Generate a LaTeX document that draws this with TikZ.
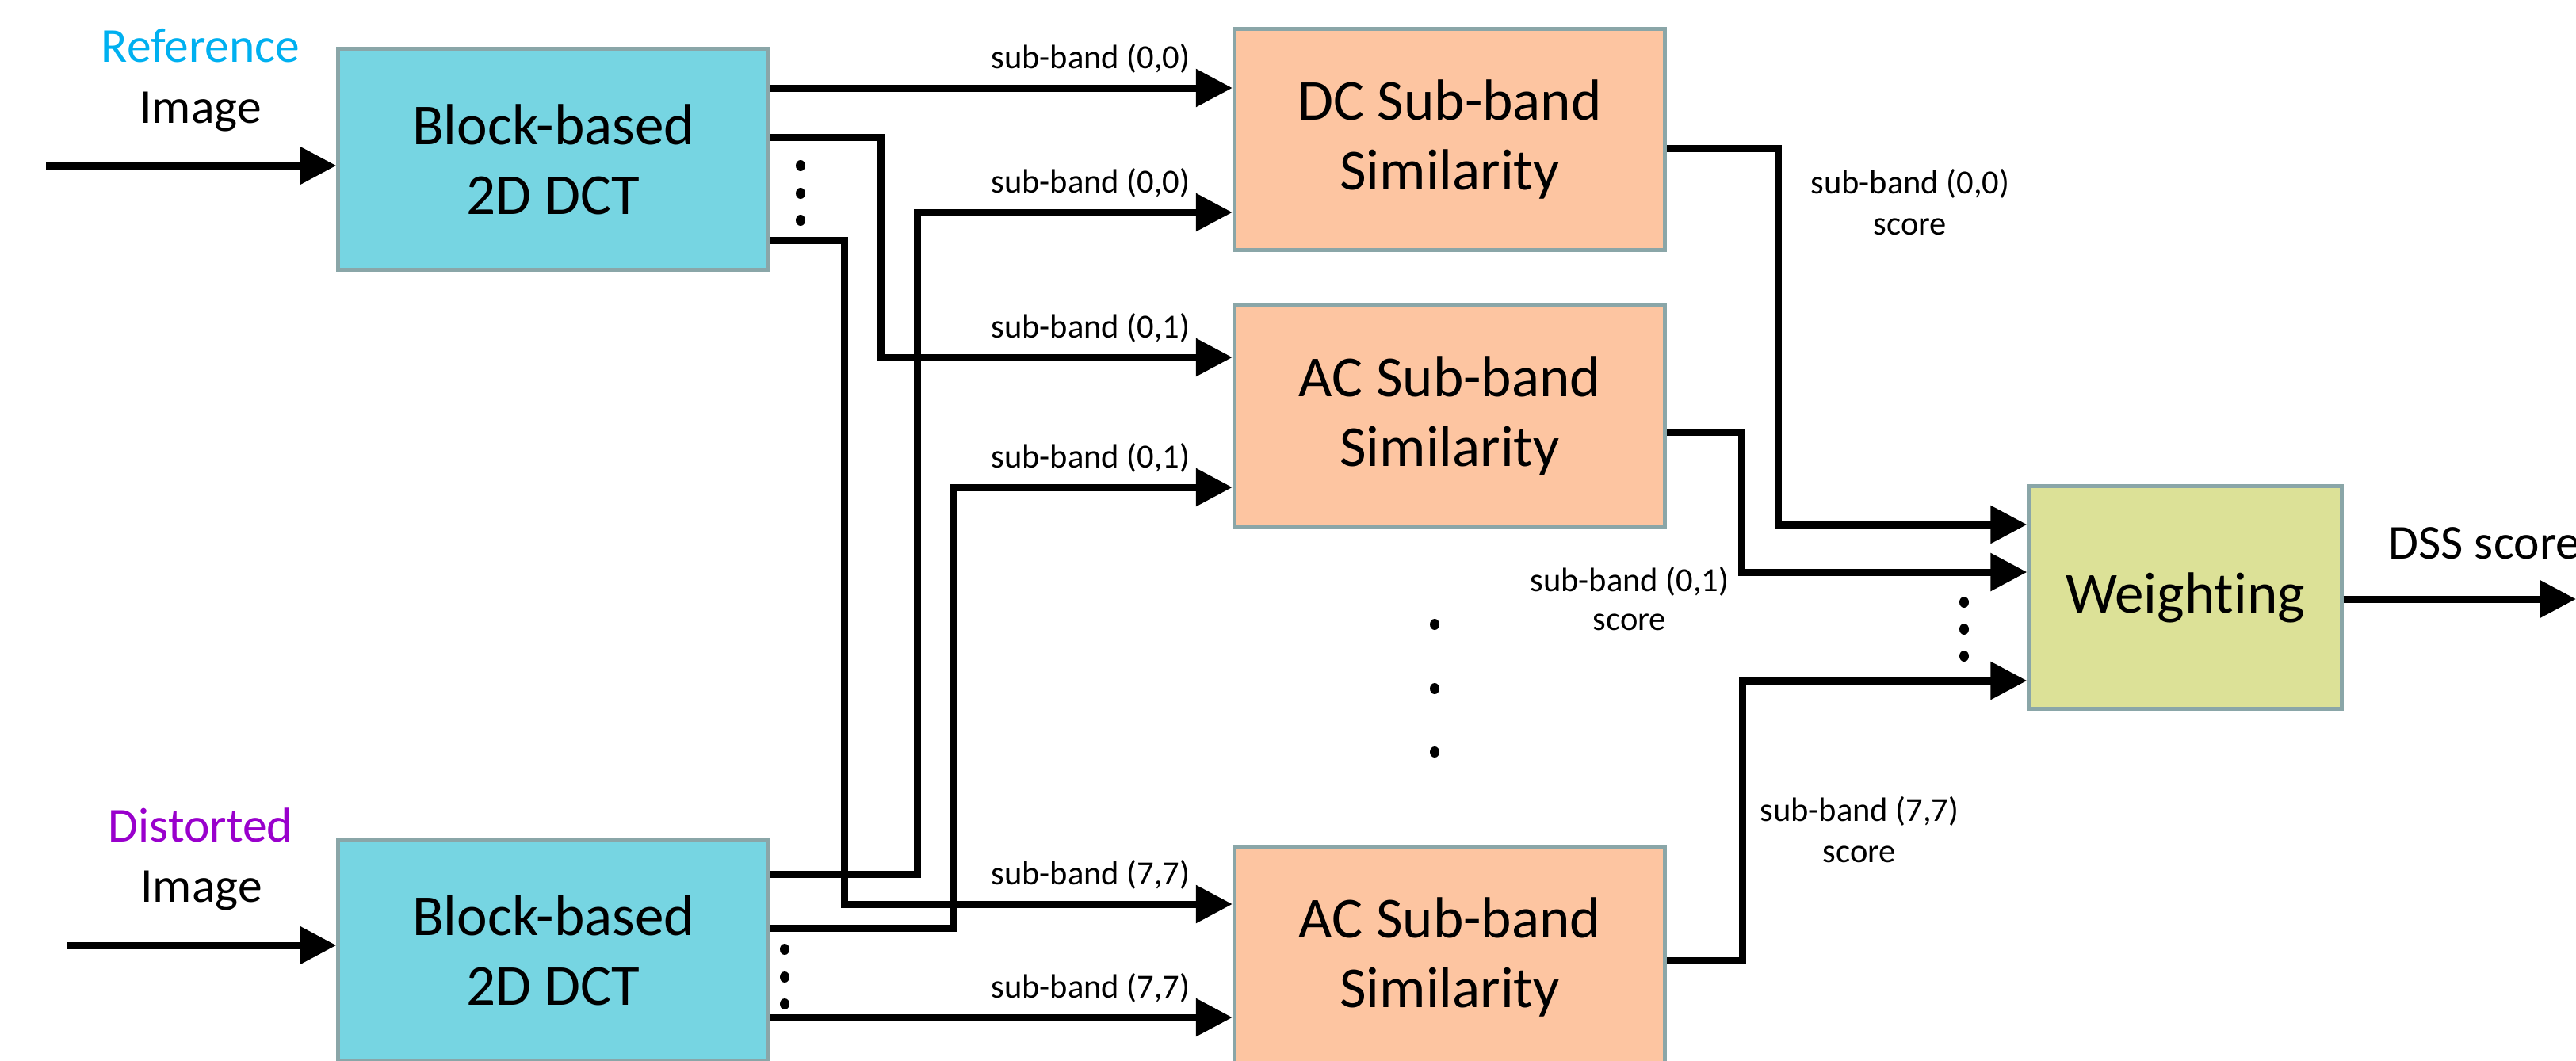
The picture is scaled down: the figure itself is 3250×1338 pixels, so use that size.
\documentclass[tikz,border=0pt]{standalone}
\usepackage{fontspec}
\setmainfont{Carlito}[Ligatures={NoCommon}]
\usetikzlibrary{arrows.meta}
\definecolor{dctfill}{HTML}{76D5E2}
\definecolor{simfill}{HTML}{FDC5A1}
\definecolor{wfill}{HTML}{DCE197}
\definecolor{boxline}{HTML}{8AA6A8}
\definecolor{refcol}{HTML}{00B0F0}
\definecolor{discol}{HTML}{9900CC}
\begin{document}
\begin{tikzpicture}[x=0.01cm, y=-0.01cm,
  block/.style={draw=boxline, line width=0.05cm, inner sep=0pt, align=center,
    font=\fontsize{20.8}{25}\selectfont},
  dctbox/.style={block, fill=dctfill, minimum width=5.42cm, minimum height=2.78cm},
  simbox/.style={block, fill=simfill, minimum width=5.43cm, minimum height=2.79cm},
  wbox/.style={block, fill=wfill, minimum width=3.94cm, minimum height=2.80cm},
  flow/.style={line width=0.09cm, line join=miter, -{Triangle[length=0.46cm, width=0.46cm]}},
  band/.style={anchor=base, inner sep=0pt, font=\fontsize{12.1}{14.8}\selectfont},
  inlabel/.style={anchor=base, inner sep=0pt, font=\fontsize{17.5}{21}\selectfont},
  dot/.style={fill=black}
]
\clip (0,0) rectangle (3250,1338);

% processing blocks
\node[dctbox] (refdct) at (698,201) {Block-based\\2D DCT};
\node[dctbox] (disdct) at (698,1199) {Block-based\\2D DCT};
\node[simbox] (dc)   at (1829,176)  {DC Sub-band\\Similarity};
\node[simbox] (ac1)  at (1829,525)  {AC Sub-band\\Similarity};
\node[simbox] (ac77) at (1829,1208) {AC Sub-band\\Similarity};
\node[wbox]   (weight) at (2757,754) {Weighting};

% input labels
\node[inlabel, text=refcol] (reflab) at (253,78) {Reference};
\node[inlabel] (refimg) at (253,155) {Image};
\node[inlabel, text=discol] (dislab) at (253,1062) {Distorted};
\node[inlabel] (disimg) at (254,1138) {Image};

% inputs
\coordinate (refin) at (58,209);
\coordinate (disin) at (84,1193);
\draw[flow] (refin) -- (refdct.west |- refin);
\draw[flow] (disin) -- (disdct.west |- disin);

% reference sub-bands
\draw[flow] (refdct.east |- 0,111) -- (dc.west |- 0,111);
\draw[flow] (refdct.east |- 0,173) -- (1111,173) -- (1111,451) -- (ac1.west |- 0,451);
\draw[flow] (refdct.east |- 0,303) -- (1065,303) -- (1065,1141) -- (ac77.west |- 0,1141);

% distorted sub-bands
\draw[flow] (disdct.east |- 0,1103) -- (1157,1103) -- (1157,268) -- (dc.west |- 0,268);
\draw[flow] (disdct.east |- 0,1171) -- (1203,1171) -- (1203,615) -- (ac1.west |- 0,615);
\draw[flow] (disdct.east |- 0,1284) -- (ac77.west |- 0,1284);

% sub-band labels
\node[band] (l1) at (1376,86)   {sub-band (0,0)};
\node[band] (l2) at (1376,243)  {sub-band (0,0)};
\node[band] (l3) at (1376,426)  {sub-band (0,1)};
\node[band] (l4) at (1376,590)  {sub-band (0,1)};
\node[band] (l5) at (1376,1116) {sub-band (7,7)};
\node[band] (l6) at (1376,1259) {sub-band (7,7)};

% scores into the weighting
\draw[flow] (dc.east |- 0,187)    -- (2243,187)  -- (2243,662) -- (weight.west |- 0,662);
\draw[flow] (ac1.east |- 0,545)   -- (2197,545)  -- (2197,722) -- (weight.west |- 0,722);
\draw[flow] (ac77.east |- 0,1212) -- (2198,1212) -- (2198,859) -- (weight.west |- 0,859);

\node[band] (s1a) at (2410,244)  {sub-band (0,0)};
\node[band] (s1b) at (2410,296)  {score};
\node[band] (s2a) at (2056,746)  {sub-band (0,1)};
\node[band] (s2b) at (2056,795)  {score};
\node[band] (s3a) at (2346,1036) {sub-band (7,7)};
\node[band] (s3b) at (2346,1088) {score};

% output
\coordinate (dssout) at (3250,756);
\draw[flow] (weight.east |- dssout) -- (dssout);
\node[inlabel, anchor=base west] (dss) at (3013,705) {DSS score};

% ellipsis dots
\foreach \px/\py in {1010/209, 1010/244, 1010/278,
                     990/1198, 990/1233, 990/1267,
                     1810/788, 1810/869, 1810/949,
                     2478/760, 2478/794, 2478/828}
  \fill[dot] (\px,\py) ellipse[x radius=0.06cm, y radius=0.07cm];
\end{tikzpicture}
\end{document}
